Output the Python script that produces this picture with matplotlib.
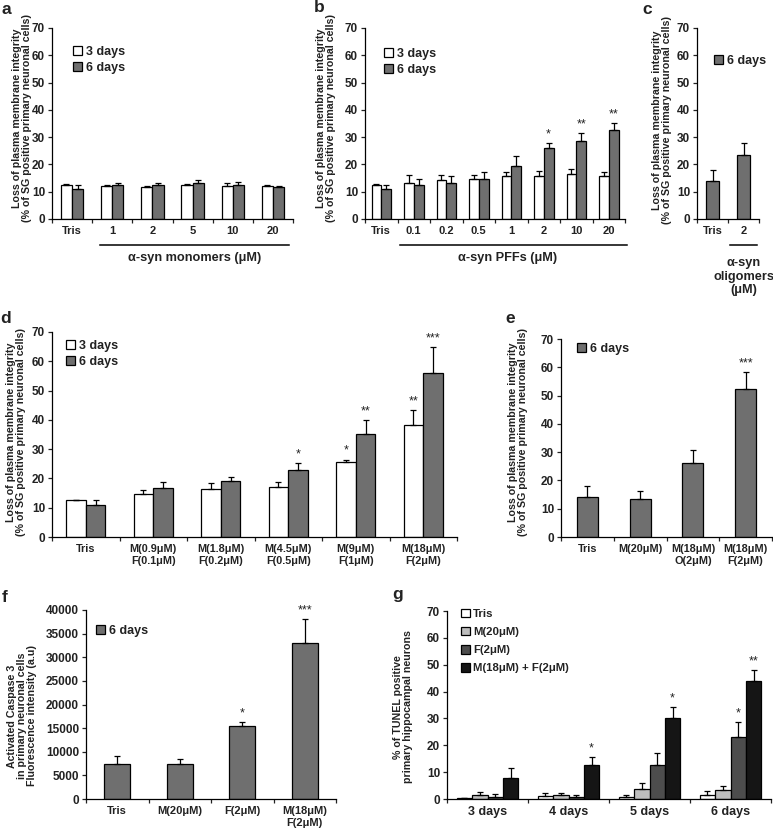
import numpy as np
import matplotlib
matplotlib.use("Agg")
import matplotlib.pyplot as plt
from matplotlib.patches import Patch

plt.rcParams['font.family'] = ['Liberation Sans', 'DejaVu Sans']
plt.rcParams['font.weight'] = 'bold'
plt.rcParams['axes.linewidth'] = 0.9
plt.rcParams['text.color'] = '#222222'
plt.rcParams['xtick.color'] = '#222222'
plt.rcParams['ytick.color'] = '#222222'

W, H = 773, 834

WHITE = 'white'
GREY = '#6f6f6f'
LIGHT = '#bdbdbd'
DARK = '#4d4d4d'
BLACK = '#151515'

# ---- data ----
a_labels = ["Tris", "1", "2", "5", "10", "20"]
a_3d = [12.6, 12.1, 11.7, 12.4, 12.2, 12.0]
a_3d_err = [0.2, 0.2, 0.3, 0.4, 1.0, 0.5]
a_6d = [11.1, 12.4, 12.3, 13.1, 12.6, 11.7]
a_6d_err = [1.5, 0.8, 0.8, 1.1, 1.0, 0.3]

b_labels = ["Tris", "0.1", "0.2", "0.5", "1", "2", "10", "20"]
b_3d = [12.6, 13.3, 14.4, 14.7, 15.6, 15.6, 16.5, 15.9]
b_3d_err = [0.2, 2.7, 1.7, 1.5, 1.7, 2.1, 1.9, 1.3]
b_6d = [11.0, 12.3, 13.2, 14.5, 19.3, 25.9, 28.6, 32.7]
b_6d_err = [1.6, 2.5, 2.7, 2.7, 3.9, 1.9, 2.8, 2.5]
b_6d_sig = ["", "", "", "", "", "*", "**", "**"]

c_labels = ["Tris", "2"]
c_6d = [14.1, 23.6]
c_6d_err = [3.9, 4.3]

d_labels = ["Tris", "M(0.9μM)\nF(0.1μM)", "M(1.8μM)\nF(0.2μM)",
            "M(4.5μM)\nF(0.5μM)", "M(9μM)\nF(1μM)", "M(18μM)\nF(2μM)"]
d_3d = [12.5, 14.7, 16.3, 17.1, 25.6, 38.2]
d_3d_err = [0.2, 1.3, 2.2, 1.7, 0.8, 5.0]
d_3d_sig = ["", "", "", "", "*", "**"]
d_6d = [10.9, 16.9, 19.0, 22.8, 35.3, 55.9]
d_6d_err = [1.6, 1.8, 1.4, 2.5, 4.6, 8.9]
d_6d_sig = ["", "", "", "*", "**", "***"]

e_labels = ["Tris", "M(20μM)", "M(18μM)\nO(2μM)", "M(18μM)\nF(2μM)"]
e_6d = [14.2, 13.4, 26.0, 52.4]
e_6d_err = [3.9, 3.0, 4.8, 5.8]
e_6d_sig = ["", "", "", "***"]

f_labels = ["Tris", "M(20μM)", "F(2μM)", "M(18μM)\nF(2μM)"]
f_6d = [7330, 7480, 15440, 32930]
f_6d_err = [1840, 990, 920, 5220]
f_6d_sig = ["", "", "*", "***"]

g_days = ["3 days", "4 days", "5 days", "6 days"]
g_names = ["Tris", "M(20μM)", "F(2μM)", "M(18μM) + F(2μM)"]
g_tris = [0.3, 1.0, 0.9, 1.5]
g_tris_err = [0.1, 1.2, 0.7, 1.6]
g_m20 = [1.5, 1.4, 3.7, 3.3]
g_m20_err = [1.0, 1.0, 2.4, 1.5]
g_f2 = [0.9, 0.9, 12.5, 22.9]
g_f2_err = [1.1, 0.6, 4.7, 5.7]
g_f2_sig = ["", "", "", "*"]
g_mf = [7.7, 12.6, 30.0, 44.0]
g_mf_err = [3.7, 3.0, 4.2, 4.0]
g_mf_sig = ["", "*", "*", "**"]

YLAB = "Loss of plasma membrane integrity\n(% of SG positive primary neuronal cells)"

fig = plt.figure(figsize=(W / 100, H / 100), dpi=100)


def px_axes(x0, x1, ytop, ybase):
    return fig.add_axes([x0 / W, 1 - ybase / H, (x1 - x0) / W, (ybase - ytop) / H])


def style(ax, labels, ymax, step, xfs=8):
    n = len(labels)
    ax.set_xlim(-0.5, n - 0.5)
    ax.set_ylim(0, ymax)
    ax.set_yticks(np.arange(0, ymax + step / 2, step))
    ax.set_xticks(np.arange(n + 1) - 0.5)
    ax.set_xticklabels([])
    ax.set_xticks(np.arange(n), labels, minor=True)
    ax.tick_params(axis='x', which='minor', length=0, labelsize=xfs, pad=5)
    ax.tick_params(axis='x', which='major', length=3, width=0.9)
    ax.tick_params(axis='y', length=3, width=0.9, labelsize=8.5, pad=2)
    ax.spines['top'].set_visible(False)
    ax.spines['right'].set_visible(False)


def bars(ax, x, vals, errs, color, width, sig=None, off=1.0, sfs=9):
    ax.bar(x, vals, width, color=color, edgecolor='black', linewidth=0.9,
           yerr=[np.zeros(len(vals)), errs], capsize=2,
           error_kw=dict(elinewidth=0.9, capthick=0.9, ecolor='black'))
    if sig:
        for xi, v, e, s in zip(x, vals, errs, sig):
            if s:
                ax.text(xi, v + e + off, s, ha='center', va='bottom',
                        fontsize=sfs, fontweight='normal')


def legend(entries, x, y, fs=9, sp=0.3):
    handles = [Patch(facecolor=c, edgecolor='black', linewidth=0.9) for c, _ in entries]
    fig.legend(handles, [t for _, t in entries], loc='upper left',
               bbox_to_anchor=(x / W, 1 - y / H), bbox_transform=fig.transFigure,
               frameon=False, fontsize=fs, handlelength=0.75, handleheight=0.75,
               handletextpad=0.3, labelspacing=sp, borderpad=0, borderaxespad=0)


def ylabel(text, cx, cy, fs=7.7):
    fig.text(cx / W, 1 - cy / H, text, rotation=90, ha='center', va='center',
             multialignment='center', fontsize=fs, linespacing=1.05)


def letter(s, cx, cy):
    fig.text(cx / W, 1 - cy / H, s, ha='center', va='center', fontsize=12.5)


def underline(ax, x0, x1, y):
    ax.plot([x0, x1], [y, y], color='black', lw=1.1,
            transform=ax.get_xaxis_transform(), clip_on=False)


# ---- panel a ----
ax = px_axes(52, 293, 28, 219)
style(ax, a_labels, 70, 10)
x = np.arange(len(a_labels))
w = 0.28
bars(ax, x - w / 2, a_3d, a_3d_err, WHITE, w)
bars(ax, x + w / 2, a_6d, a_6d_err, GREY, w)
underline(ax, 0.7, 5.4, -0.135)
ax.text(3.05, -0.205, "α-syn monomers (μM)", transform=ax.get_xaxis_transform(),
        ha='center', va='center', fontsize=9.2)
legend([(WHITE, "3 days"), (GREY, "6 days")], 73, 46)
ylabel(YLAB, 22, 118)
letter("a", 6, 9)

# ---- panel b ----
ax = px_axes(365, 625, 28, 219)
style(ax, b_labels, 70, 10)
x = np.arange(len(b_labels))
w = 0.3
bars(ax, x - w / 2, b_3d, b_3d_err, WHITE, w)
bars(ax, x + w / 2, b_6d, b_6d_err, GREY, w, b_6d_sig)
underline(ax, 0.58, 7.56, -0.135)
ax.text(3.9, -0.205, "α-syn PFFs (μM)", transform=ax.get_xaxis_transform(),
        ha='center', va='center', fontsize=9.2)
legend([(WHITE, "3 days"), (GREY, "6 days")], 384, 48)
ylabel(YLAB, 326, 118)
letter("b", 319, 8)

# ---- panel c ----
ax = px_axes(697, 759, 28, 219)
style(ax, c_labels, 70, 10)
x = np.arange(len(c_labels))
bars(ax, x, c_6d, c_6d_err, GREY, 0.4)
underline(ax, 0.55, 1.45, -0.135)
ax.text(1.0, -0.2, "α-syn\noligomers\n(μM)", transform=ax.get_xaxis_transform(),
        ha='center', va='top', fontsize=9.2, linespacing=1.15)
legend([(GREY, "6 days")], 714, 55)
ylabel(YLAB, 662, 120)
letter("c", 647, 9)

# ---- panel d ----
ax = px_axes(52, 457, 332, 537)
style(ax, d_labels, 70, 10, xfs=7.8)
x = np.arange(len(d_labels))
w = 0.29
bars(ax, x - w / 2, d_3d, d_3d_err, WHITE, w, d_3d_sig)
bars(ax, x + w / 2, d_6d, d_6d_err, GREY, w, d_6d_sig)
legend([(WHITE, "3 days"), (GREY, "6 days")], 66, 340)
ylabel(YLAB, 16, 432)
letter("d", 6, 318)

# ---- panel e ----
ax = px_axes(561, 772, 339, 537)
style(ax, e_labels, 70, 10, xfs=7.8)
x = np.arange(len(e_labels))
bars(ax, x, e_6d, e_6d_err, GREY, 0.4, e_6d_sig)
legend([(GREY, "6 days")], 577, 343)
ylabel(YLAB, 518, 432)
letter("e", 510, 318)

# ---- panel f ----
ax = px_axes(86, 336, 610, 799)
style(ax, f_labels, 40000, 5000, xfs=8)
x = np.arange(len(f_labels))
bars(ax, x, f_6d, f_6d_err, GREY, 0.42, f_6d_sig, off=500)
legend([(GREY, "6 days")], 96, 625)
ylabel("Activated Caspase 3\nin primary neuronal cells\nFluorescence intensity (a.u)", 22, 716)
letter("f", 5, 597)

# ---- panel g ----
ax = px_axes(447, 771, 611, 799)
style(ax, g_days, 70, 10, xfs=9)
x = np.arange(len(g_days))
w = 0.19
g_vals = [g_tris, g_m20, g_f2, g_mf]
g_errs = [g_tris_err, g_m20_err, g_f2_err, g_mf_err]
g_cols = [WHITE, LIGHT, DARK, BLACK]
g_sigs = [None, None, g_f2_sig, g_mf_sig]
for i in range(4):
    bars(ax, x + (i - 1.5) * w, g_vals[i], g_errs[i], g_cols[i], w, g_sigs[i])
legend(list(zip(g_cols, g_names)), 461, 609, fs=8.2, sp=0.7)
ylabel("% of TUNEL positive\nprimary hippocampal neurons", 403, 707)
letter("g", 398, 595)

fig.savefig("out.png", dpi=100)
